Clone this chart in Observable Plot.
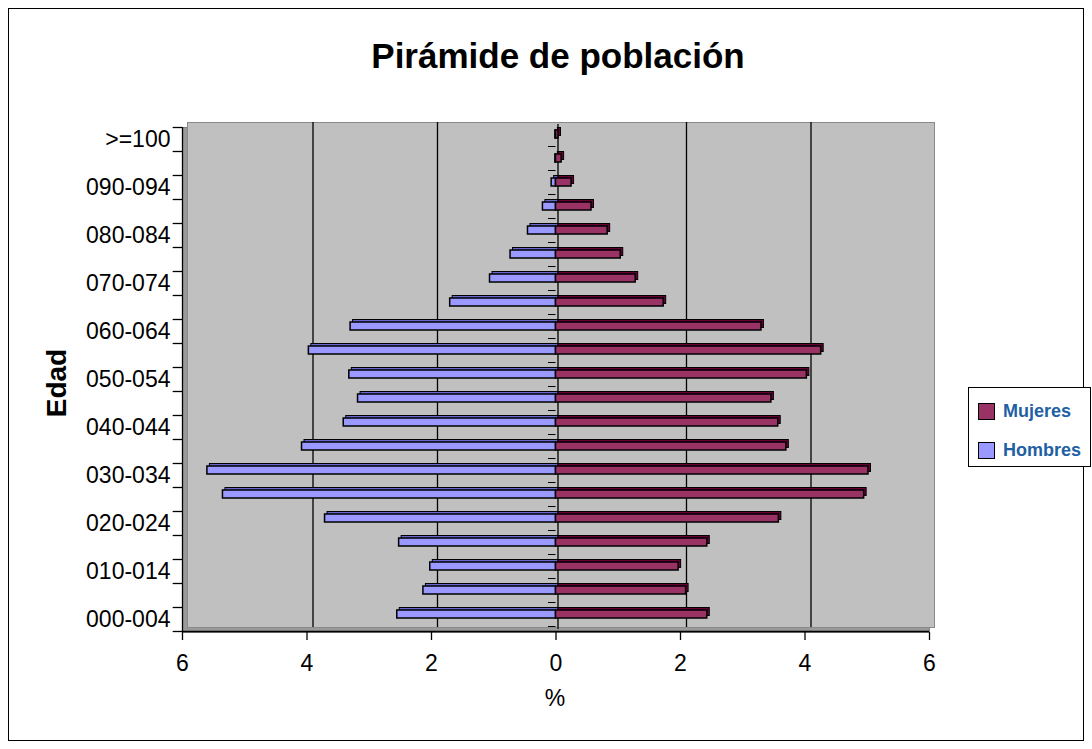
<!DOCTYPE html>
<html>
<head>
<meta charset="utf-8">
<script src="https://cdn.jsdelivr.net/npm/d3@7"></script>
<script src="https://cdn.jsdelivr.net/npm/@observablehq/plot@0.6"></script>
<style>
  html, body { margin: 0; padding: 0; background: #fff; }
  #wrap { position: relative; width: 1092px; height: 749px; font-family: "Liberation Sans", Arial, sans-serif; overflow: hidden; }
  #chart { position: absolute; left: 0; top: 0; }
  .border { position: absolute; left: 8px; top: 8px; width: 1076px; height: 733px; border: 1px solid #000; box-sizing: border-box; }
  .title { position: absolute; left: 0; width: 1116px; top: 36px; text-align: center; font-weight: bold; font-size: 35px; color: #000; }
  .ylab { position: absolute; left: 57px; top: 383px; transform: translate(-50%, -50%) rotate(-90deg); font-weight: bold; font-size: 28px; white-space: nowrap; }
  .xlab { position: absolute; left: 555px; top: 698px; transform: translate(-50%, -50%); font-size: 23px; }
  .legend { position: absolute; left: 968px; top: 387px; width: 123px; height: 80px; border: 1px solid #000; box-sizing: border-box; background: #fff; }
  .item { position: absolute; left: 9px; display: flex; align-items: center; font-weight: bold; font-size: 18px; color: #1f5fa3; }
  .sw { width: 17px; height: 17px; border: 1px solid #000; margin-right: 8px; box-sizing: border-box; }
</style>
</head>
<body>
<div id="wrap">
  <div id="chart"></div>
  <div class="border"></div>
  <div class="title">Pirámide de población</div>
  <div class="ylab">Edad</div>
  <div class="xlab">%</div>
  <div class="legend" id="legend"></div>
</div>
<script>
const ages = ["000-004","005-009","010-014","015-019","020-024","025-029","030-034","035-039","040-044","045-049","050-054","055-059","060-064","065-069","070-074","075-079","080-084","085-089","090-094","095-099",">=100"];
const hombres = [2.55, 2.13, 2.02, 2.52, 3.71, 5.35, 5.60, 4.08, 3.41, 3.18, 3.32, 3.97, 3.30, 1.70, 1.06, 0.73, 0.45, 0.21, 0.07, 0.01, 0.01];
const mujeres = [2.43, 2.09, 1.97, 2.43, 3.58, 4.95, 5.02, 3.70, 3.57, 3.46, 4.03, 4.26, 3.30, 1.73, 1.28, 1.04, 0.83, 0.57, 0.25, 0.09, 0.04];
const xTicks = [-6, -4, -2, 0, 2, 4, 6];
const gridValues = [-4, -2, 2, 4];
const series = [
  {name: "Mujeres", color: "#993366", dark: "#660033"},
  {name: "Hombres", color: "#9999FF", dark: "#6666CC"}
];

const men = ages.map((a, i) => ({age: a, value: -hombres[i]}));
const women = ages.map((a, i) => ({age: a, value: mujeres[i]}));
const labelAges = ages.filter((d, i) => i % 2 === 0);

const chart = Plot.plot({
  width: 1092,
  height: 749,
  marginLeft: 182,
  marginRight: 163,
  marginTop: 127,
  marginBottom: 117,
  style: {fontFamily: "'Liberation Sans', Arial, sans-serif", background: "transparent"},
  x: {domain: [-6, 6]},
  y: {type: "band", domain: ages.slice().reverse(), paddingInner: 0.66, paddingOuter: 0.33, label: null},
  marks: [
    // side wall and floor
    Plot.frame({fill: "#9a9a9a", stroke: "#808080"}),
    // back wall
    Plot.frame({fill: "#c0c0c0", stroke: "#8a8a8a", dx: 5, dy: -5}),
    // gridlines on back wall
    Plot.ruleX(gridValues, {stroke: "#000", strokeWidth: 1.3, dx: 6, dy: -5}),
    Plot.ruleX([0], {stroke: "#222", strokeWidth: 1.6, dx: 2, dy: -3}),
    // 3D top/right faces
    Plot.barX(men, {x: "value", y: "age", fill: series[1].dark, stroke: "#000", strokeWidth: 1, dx: 2.5, dy: -7.5}),
    Plot.barX(women, {x: "value", y: "age", fill: series[0].dark, stroke: "#000", strokeWidth: 1, dx: 2.5, dy: -7.5}),
    // front faces
    Plot.barX(men, {x: "value", y: "age", fill: series[1].color, stroke: "#000", strokeWidth: 1.5, dy: -5}),
    Plot.barX(women, {x: "value", y: "age", fill: series[0].color, stroke: "#000", strokeWidth: 1.5, dy: -5}),
    // small ticks on the zero category axis
    Plot.ruleY(ages, {y: d => d, x1: -0.12, x2: 0, dy: 7, stroke: "#000"}),
    // left axis line + ticks at category boundaries
    Plot.ruleX([-6], {stroke: "#000", strokeWidth: 1.3}),
    Plot.ruleY(ages, {y: d => d, x1: -6.15, x2: -6, dy: 12, stroke: "#000", strokeWidth: 1.3}),
    Plot.ruleY([ages[ages.length - 1]], {y: d => d, x1: -6.15, x2: -6, dy: -12, stroke: "#000", strokeWidth: 1.3}),
    // bottom axis line
    Plot.ruleY([ages[0]], {y: d => d, x1: -6, x2: 6, dy: 12, stroke: "#000", strokeWidth: 1.3}),
    Plot.axisY({ticks: labelAges, tickSize: 0, tickPadding: 12, fontSize: 23, label: null, fill: "#000"}),
    Plot.axisX({ticks: xTicks, tickFormat: d => Math.abs(d), tickSize: 8, tickPadding: 14, fontSize: 23, label: null, stroke: "#000", strokeWidth: 1.3})
  ]
});
document.getElementById("chart").appendChild(chart);

const legend = document.getElementById("legend");
series.forEach((s, i) => {
  const it = document.createElement("div");
  it.className = "item";
  it.style.top = (i === 0 ? 13 : 52) + "px";
  const sw = document.createElement("div");
  sw.className = "sw";
  sw.style.background = s.color;
  const tx = document.createElement("span");
  tx.textContent = s.name;
  it.appendChild(sw);
  it.appendChild(tx);
  legend.appendChild(it);
});
</script>
</body>
</html>
